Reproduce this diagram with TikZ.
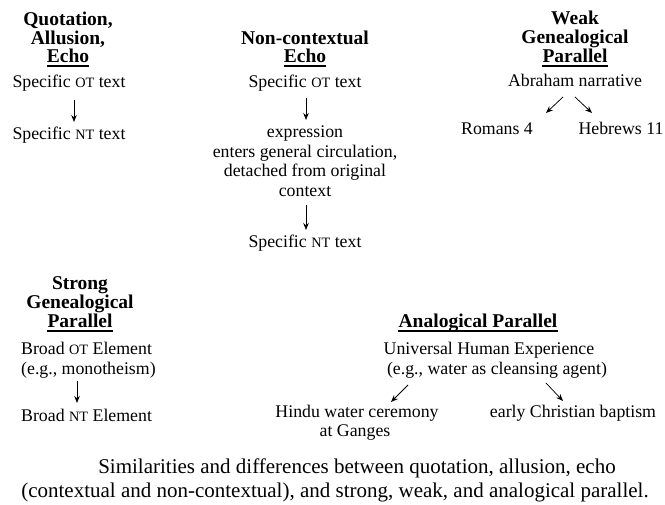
\documentclass[tikz,border=0pt]{standalone}
\usepackage{fontspec}
\setmainfont{Liberation Serif}
\usetikzlibrary{arrows.meta}
\newcommand\mysc[1]{{\fontsize{14.3}{14.3}\selectfont #1}}
\begin{document}
\begin{tikzpicture}[x=1pt,y=-1pt,
  txt/.style={anchor=base,inner sep=0pt,font=\fontsize{17.8}{20}\selectfont},
  txtl/.style={txt,anchor=base west},
  hd/.style={txt,font=\fontsize{19.5}{20}\selectfont\bfseries},
  captxt/.style={txt,font=\fontsize{21}{22}\selectfont},
  ulin/.style={line width=1.3pt},
  arr/.style={-{Stealth[length=7pt,width=5.5pt]},line width=0.75pt}]
\useasboundingbox[fill=white] (0,0) rectangle (665,505);
% column 1
\node[hd] (q1) at (68,26) {Quotation,};
\node[hd] (q2) at (68,45) {Allusion,};
\node[hd] (q3) at (68,63) {Echo};
\draw[ulin] ([yshift=-3pt]q3.base west) -- ([yshift=-3pt]q3.base east);
\node[txt] (qa) at (69,88) {Specific \mysc{OT} text};
\node[txt] (qb) at (69,140) {Specific \mysc{NT} text};
\draw[arr] ([xshift=5pt,yshift=-12pt]qa.base) -- ([xshift=5pt,yshift=18pt]qb.base);
% column 2
\node[hd] (n1) at (305,45) {Non-contextual};
\node[hd] (n2) at (305,63) {Echo};
\draw[ulin] ([yshift=-3pt]n2.base west) -- ([yshift=-3pt]n2.base east);
\node[txt] (na) at (305,88) {Specific \mysc{OT} text};
\node[txt] (nb1) at (305,138) {expression};
\node[txt] (nb2) at (305,158) {enters general circulation,};
\node[txt] (nb3) at (305,177) {detached from original};
\node[txt] (nb4) at (305,197) {context};
\node[txt] (nc) at (305,248) {Specific \mysc{NT} text};
\draw[arr] ([xshift=1pt,yshift=-10pt]na.base) -- ([xshift=1pt,yshift=18pt]nb1.base);
\draw[arr] ([xshift=1pt,yshift=-8pt]nb4.base) -- ([xshift=1pt,yshift=18pt]nc.base);
% column 3
\node[hd] (w1) at (575,25) {Weak};
\node[hd] (w2) at (575,44) {Genealogical};
\node[hd] (w3) at (575,63) {Parallel};
\draw[ulin] ([yshift=-3pt]w3.base west) -- ([yshift=-3pt]w3.base east);
\node[txt] (wa) at (575,87) {Abraham narrative};
\node[txt] (wr) at (497,135) {Romans 4};
\node[txt] (wh) at (621,135) {Hebrews 11};
\draw[arr] ([xshift=-12pt,yshift=-10pt]wa.base) -- ([xshift=49pt,yshift=22pt]wr.base);
\draw[arr] ([xshift=0pt,yshift=-10pt]wa.base) -- ([xshift=-29pt,yshift=22pt]wh.base);
% strong
\node[hd] (s1) at (80,290) {Strong};
\node[hd] (s2) at (80,309) {Genealogical};
\node[hd] (s3) at (80,328) {Parallel};
\draw[ulin] ([yshift=-3pt]s3.base west) -- ([yshift=-3pt]s3.base east);
\node[txtl] (sa) at (21,355) {Broad \mysc{OT} Element};
\node[txtl] (sb) at (21,375) {(e.g., monotheism)};
\node[txtl] (sc) at (21,421) {Broad \mysc{NT} Element};
\draw[arr] ([xshift=56pt,yshift=-6pt]sb.base west) -- ([xshift=56pt,yshift=18pt]sc.base west);
% analogical
\node[hd] (a1) at (478,328) {Analogical Parallel};
\draw[ulin] ([yshift=-3pt]a1.base west) -- ([yshift=-3pt]a1.base east);
\node[txt] (aa) at (489,355) {Universal Human Experience};
\node[txt] (ab) at (497,375) {(e.g., water as cleansing agent)};
\node[txt] (ah) at (357,418) {Hindu water ceremony};
\node[txt] (ah2) at (355,437) {at Ganges};
\node[txt] (ae) at (573,418) {early Christian baptism};
\draw[arr] ([xshift=-89pt,yshift=-10pt]ab.base) -- ([xshift=34pt,yshift=16pt]ah.base);
\draw[arr] ([xshift=49pt,yshift=-8pt]ab.base) -- ([xshift=-10pt,yshift=17pt]ae.base);
% caption
\node[captxt] (c1) at (357,474) {Similarities and differences between quotation, allusion, echo};
\node[captxt] (c2) at (335,497) {(contextual and non-contextual), and strong, weak, and analogical parallel.};
\end{tikzpicture}
\end{document}
